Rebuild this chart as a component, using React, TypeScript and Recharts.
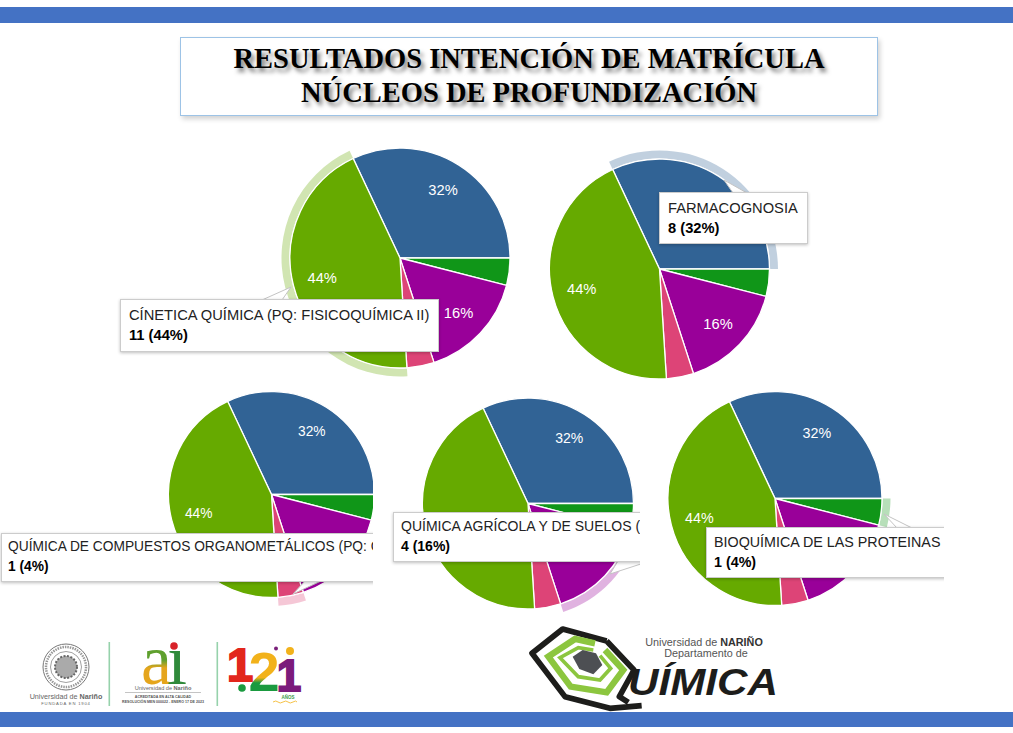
import React from "react";
import { PieChart, Pie, Cell } from "recharts";

const categories = [
  "FARMACOGNOSIA",
  "BIOQUÍMICA DE LAS PROTEINAS",
  "QUÍMICA AGRÍCOLA Y DE SUELOS (",
  "QUÍMICA DE COMPUESTOS ORGANOMETÁLICOS (PQ: C",
  "CÍNETICA QUÍMICA (PQ: FISICOQUÍMICA II)",
];
const values = [8, 1, 4, 1, 11];
const colors = ["#316395", "#109618", "#990099", "#dd4477", "#66aa00"];
const total = values.reduce((a, b) => a + b, 0);
const tableData = categories.map((name, i) => ({ name, value: values[i] }));

type PieSpec = {
  cx: number; cy: number; r: number; active: number; clipW: number; font: number;
  padX: number; padY: number; lh: number;
  tip: { left: number; top: number; width: number; height: number };
  pointer: string;
};

const pies: PieSpec[] = [
  { cx: 400, cy: 258, r: 110, active: 4, clipW: 1013, font: 14.7, padX: 8, padY: 5, lh: 20, tip: { left: 120, top: 299, width: 319, height: 53 }, pointer: "262,300 282,300 291,287" },
  { cx: 659.5, cy: 269, r: 110, active: 0, clipW: 1013, font: 14.7, padX: 8, padY: 5, lh: 20, tip: { left: 659, top: 192, width: 149, height: 52 }, pointer: "733,193 747,193 724,180" },
  { cx: 271.5, cy: 494.5, r: 103, active: 3, clipW: 373, font: 13.75, padX: 6, padY: 3, lh: 20, tip: { left: 1, top: 533, width: 640, height: 49 }, pointer: "305,581 321,581 293,594" },
  { cx: 528, cy: 503.5, r: 105.5, active: 2, clipW: 640, font: 14, padX: 7, padY: 4, lh: 19.5, tip: { left: 393, top: 512, width: 500, height: 50 }, pointer: "618,561 650,561 610,574" },
  { cx: 775, cy: 498.5, r: 107, active: 1, clipW: 944, font: 14.3, padX: 7, padY: 4, lh: 20, tip: { left: 706, top: 527, width: 400, height: 51 }, pointer: "897,528 912,528 884,514" },
];

const RAD = Math.PI / 180;
const makePct = (font: number) => (p: any) => {
  if (p.percent < 0.05) return null;
  const rr = p.outerRadius * 0.73;
  const x = p.cx + rr * Math.cos(-p.midAngle * RAD);
  const y = p.cy + rr * Math.sin(-p.midAngle * RAD);
  return (
    <text x={x} y={y} fill="#fff" fontSize={font} fontFamily="'Liberation Sans', Arial" textAnchor="middle" dominantBaseline="central">
      {`${Math.round(p.percent * 100)}%`}
    </text>
  );
};

function PieBlock({ spec }: { spec: PieSpec }) {
  const { cx, cy, r, active, clipW, tip, pointer, font, padX, padY, lh } = spec;
  const item = tableData[active];
  return (
    <div style={{ position: "absolute", left: 0, top: 0, width: clipW, height: 733, overflow: "hidden", pointerEvents: "none" }}>
      <PieChart width={clipW} height={733} margin={{ top: 0, right: 0, bottom: 0, left: 0 }}>
        <Pie data={tableData} dataKey="value" cx={cx} cy={cy} innerRadius={r + 0.5} outerRadius={r + 8.5} startAngle={115.2} endAngle={-244.8} stroke="none" isAnimationActive={false} label={false} labelLine={false}>
          {tableData.map((_, i) => (
            <Cell key={i} fill={i === active ? colors[i] : "transparent"} fillOpacity={i === active ? 0.3 : 0} stroke="none" />
          ))}
        </Pie>
        <Pie data={tableData} dataKey="value" cx={cx} cy={cy} outerRadius={r} startAngle={115.2} endAngle={-244.8} stroke="#fff" strokeWidth={1.3} isAnimationActive={false} label={makePct(font)} labelLine={false}>
          {tableData.map((_, i) => (
            <Cell key={i} fill={colors[i]} />
          ))}
        </Pie>
      </PieChart>
      <svg width={clipW} height={733} style={{ position: "absolute", left: 0, top: 0 }}>
        <polygon points={pointer} fill="#fff" stroke="#c4c4c4" strokeWidth={1} />
      </svg>
      <div style={{ position: "absolute", ...tip, boxSizing: "border-box", background: "#fff", border: "1px solid #ccc", boxShadow: "0 1px 3px rgba(0,0,0,.25)", padding: `${padY}px ${padX}px`, fontFamily: "'Liberation Sans', Arial", fontSize: font, lineHeight: `${lh}px`, color: "#222", whiteSpace: "nowrap" }}>
        <div>{item.name}</div>
        <div style={{ fontWeight: 700, color: "#000" }}>{`${item.value} (${Math.round((item.value / total) * 100)}%)`}</div>
      </div>
    </div>
  );
}

function Logos() {
  const sans = "'Liberation Sans', Arial";
  return (
    <svg width={1013} height={733} style={{ position: "absolute", left: 0, top: 0 }}>
      <defs>
        <linearGradient id="aGrad" x1="0" y1="0" x2="0" y2="1">
          <stop offset="0.5" stopColor="#5fa02e" />
          <stop offset="0.6" stopColor="#e5a51c" />
        </linearGradient>
        <linearGradient id="twoGrad" x1="0" y1="0" x2="0" y2="1">
          <stop offset="0.6" stopColor="#f2b21b" />
          <stop offset="0.68" stopColor="#1a9a3f" />
        </linearGradient>
      </defs>
      {/* seal */}
      <circle cx={66} cy={667} r={23} fill="#fff" stroke="#777" strokeWidth={1} />
      <circle cx={66} cy={667} r={20} fill="none" stroke="#999" strokeWidth={2.5} strokeDasharray="1.5 1" />
      <circle cx={66} cy={667} r={15.5} fill="none" stroke="#888" strokeWidth={0.8} />
      <circle cx={66} cy={667} r={11} fill="#aaa" stroke="#666" strokeWidth={2} strokeDasharray="2 1.5" />
      <text x={66} y={699} textAnchor="middle" fontFamily={sans} fontSize={7.2} fill="#666">Universidad de <tspan fontWeight={700}>Nariño</tspan></text>
      <text x={66} y={705} textAnchor="middle" fontFamily={sans} fontSize={4.2} letterSpacing={0.8} fill="#666">FUNDADA EN 1904</text>
      <rect x={108.5} y={642} width={1.6} height={64} fill="#96d2ab" />
      <rect x={216.5} y={642} width={1.6} height={64} fill="#96d2ab" />
      {/* ai */}
      <text x={141} y={684} fontFamily="'Liberation Serif', serif" fontSize={72} textLength={31} lengthAdjust="spacingAndGlyphs" fill="url(#aGrad)">a</text>
      <text x={167} y={684} fontFamily="'Liberation Serif', serif" fontSize={72} fill="#2f8a3a">ı</text>
      <circle cx={174} cy={646} r={3.8} fill="#d8232a" />
      <text x={163} y={690} textAnchor="middle" fontFamily={sans} fontSize={5.6} fill="#666">Universidad de <tspan fontWeight={700}>Nariño</tspan></text>
      <line x1={125} x2={201} y1={692.5} y2={692.5} stroke="#aaa" strokeWidth={0.7} />
      <text x={163} y={698} textAnchor="middle" fontFamily={sans} fontSize={3.6} fill="#555" fontWeight={700}>ACREDITADA EN ALTA CALIDAD</text>
      <text x={163} y={703} textAnchor="middle" fontFamily={sans} fontSize={3.6} fill="#555" fontWeight={700}>RESOLUCIÓN MEN 000022 - ENERO 17 DE 2023</text>
      {/* 121 */}
      <text x={240} y={681} textAnchor="middle" fontFamily={sans} fontWeight={700} fontSize={47} fill="#e2261c" stroke="#e2261c" strokeWidth={2}>1</text>
      <circle cx={242} cy={688} r={3.8} fill="#1a9a3f" />
      <text x={264} y={691} textAnchor="middle" fontFamily={sans} fontWeight={700} fontSize={56} fill="url(#twoGrad)">2</text>
      <circle cx={276} cy={648.5} r={2} fill="#7a1f7a" />
      <text x={289} y={691} textAnchor="middle" fontFamily={sans} fontWeight={700} fontSize={44} fill="#7b1b7b" stroke="#7b1b7b" strokeWidth={2}>1</text>
      <circle cx={290} cy={651} r={4} fill="#f2b21b" />
      <text x={288} y={698.5} textAnchor="middle" fontFamily={sans} fontSize={4.5} fontWeight={700} fill="#3d9a4a">AÑOS</text>
      <path d="M 273 702 q 3 -2 5 0 t 5 0 t 5 0 t 5 0 t 4 0" stroke="#f2b21b" strokeWidth={0.8} fill="none" />
      {/* Química logo */}
      <g transform="translate(510 615) scale(0.3333)">
        <path d="M 290 78 L 158 42 L 66 115 L 165 245 L 300 280 L 395 272 M 290 78 L 372 165 L 328 245 L 355 262" fill="none" stroke="#1d1d1b" strokeWidth={17} strokeLinejoin="round" />
        <path d="M 255 85 L 195 72 L 115 125 L 182 215 L 290 232 L 340 165 L 285 105" fill="none" stroke="#8cc63f" strokeWidth={19} />
        <path d="M 250 105 L 205 98 L 150 128 L 205 185 L 270 195 L 302 160 L 270 122" fill="none" stroke="#8cc63f" strokeWidth={11} />
        <polygon points="188,125 218,105 258,115 277,150 250,178 208,162" fill="#4d4f53" />
      </g>
      <text x={704} y={646} textAnchor="middle" fontFamily={sans} fontSize={10.8} fill="#555">Universidad de <tspan fontWeight={700} fill="#333">NARIÑO</tspan></text>
      <text x={706} y={657} textAnchor="middle" fontFamily={sans} fontSize={10.8} fill="#555">Departamento de</text>
      <text x={628} y={695} fontFamily={sans} fontWeight={700} fontStyle="italic" fontSize={36} textLength={150} lengthAdjust="spacingAndGlyphs" fill="#1d1d1b">UÍMICA</text>
    </svg>
  );
}

export default function App() {
  return (
    <div style={{ position: "fixed", left: 0, top: 0, width: 1013, height: 733, background: "#fff", overflow: "hidden" }}>
      <div style={{ position: "absolute", left: 0, top: 7, width: 1013, height: 16, background: "#4472c4" }} />
      <div style={{ position: "absolute", left: 0, top: 712, width: 1013, height: 15, background: "#4472c4" }} />
      <div style={{ position: "absolute", left: 180, top: 37, width: 698, height: 79, boxSizing: "border-box", background: "#fff", border: "1px solid #9dc3e6", boxShadow: "2px 3px 5px rgba(0,0,0,.18)", textAlign: "center", fontFamily: "'Liberation Serif', 'Times New Roman', serif", fontWeight: 700, fontSize: 28.5, lineHeight: "33.5px", paddingTop: 4, color: "#000", textShadow: "3px 4px 4px rgba(0,0,0,.5)" }}>
        <div>RESULTADOS INTENCIÓN DE MATRÍCULA</div>
        <div>NÚCLEOS DE PROFUNDIZACIÓN</div>
      </div>
      {pies.map((p, i) => (
        <PieBlock key={i} spec={p} />
      ))}
      <Logos />
    </div>
  );
}
